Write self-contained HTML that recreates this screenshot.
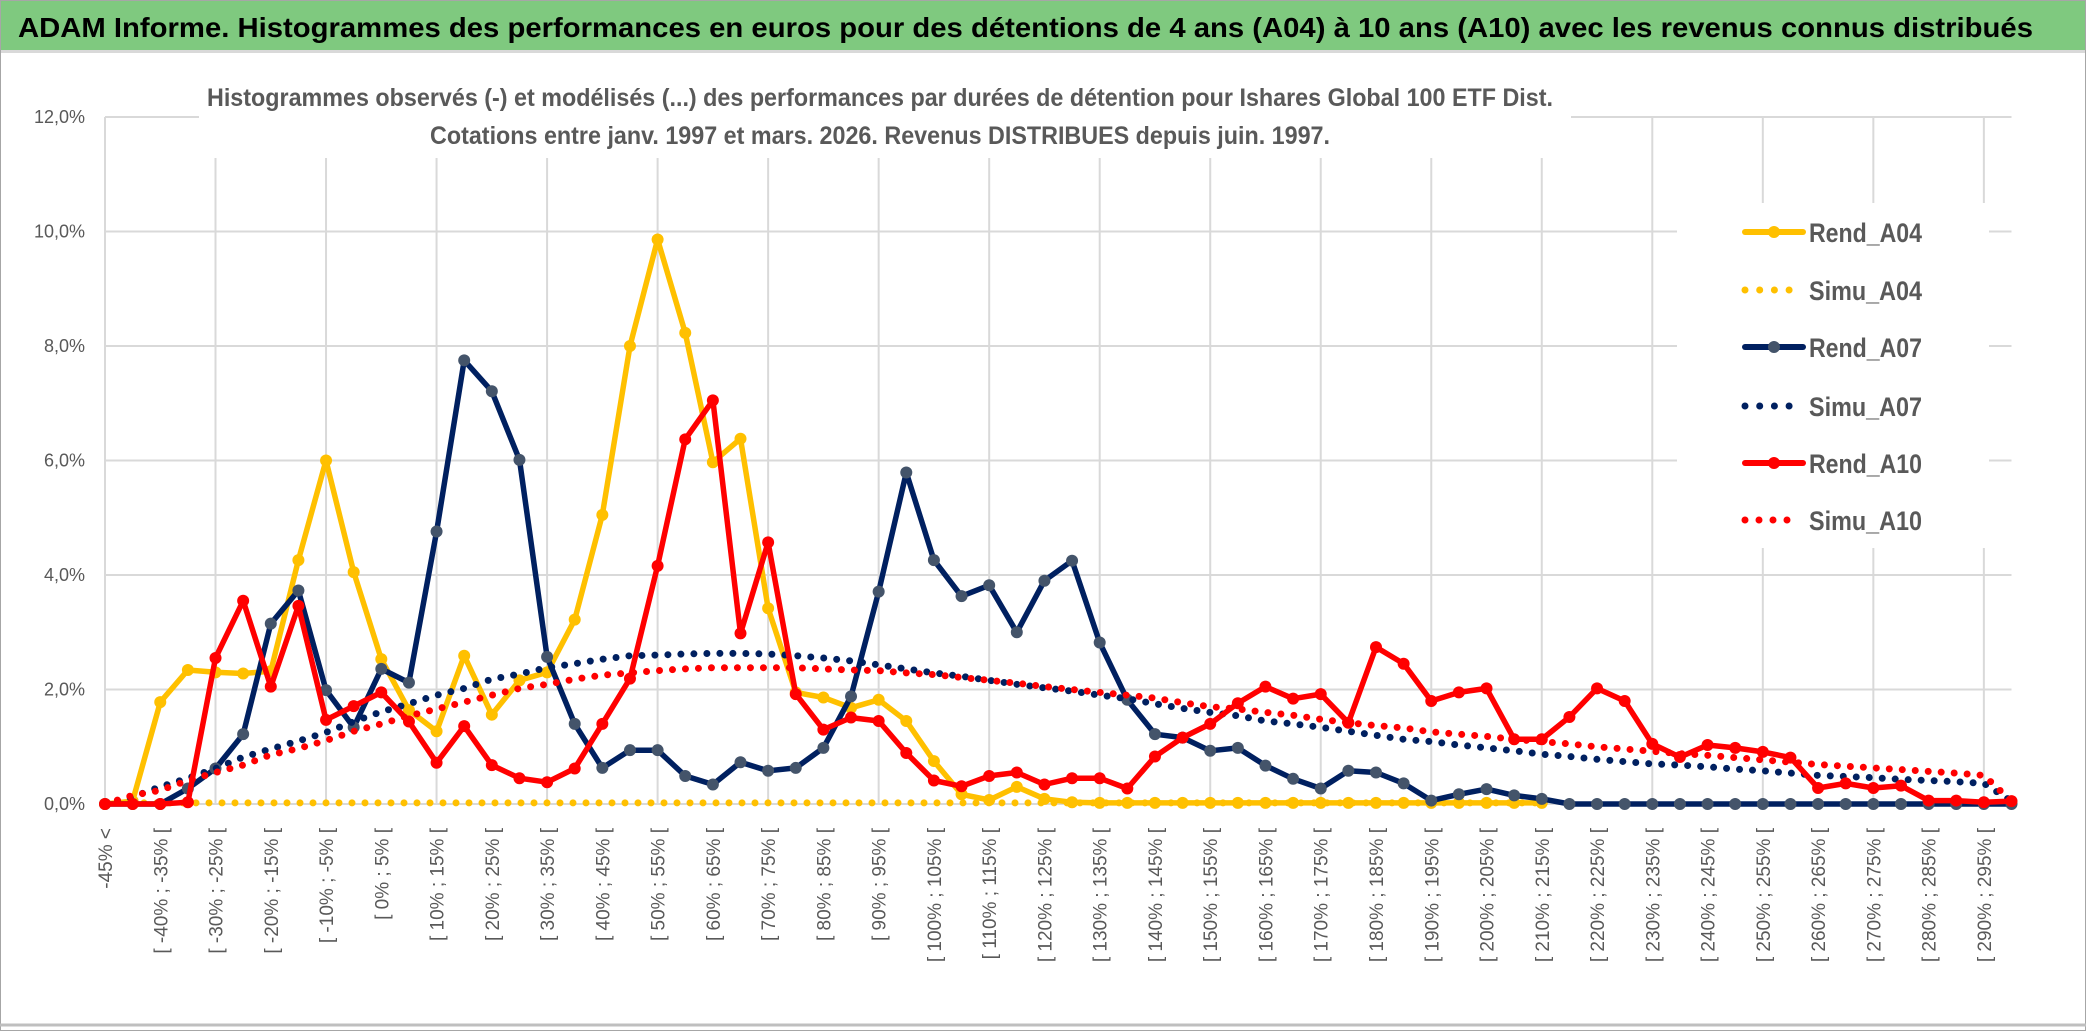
<!DOCTYPE html>
<html><head><meta charset="utf-8"><style>
html,body{margin:0;padding:0;background:#fff;}
svg{display:block;}
text{font-family:"Liberation Sans",sans-serif;}
</style></head><body>
<svg id="chart" width="2086" height="1031" viewBox="0 0 2086 1031" xmlns="http://www.w3.org/2000/svg">
<rect x="0" y="0" width="2086" height="1031" fill="#fff"/>
<rect x="0" y="0" width="2086" height="50" fill="#7fc97f"/>
<line x1="0" y1="51.5" x2="2086" y2="51.5" stroke="#d9d9d9" stroke-width="3"/>
<text x="18" y="37" font-size="28" font-weight="bold" fill="#000" textLength="2015" lengthAdjust="spacingAndGlyphs">ADAM Informe. Histogrammes des performances en euros pour des détentions de 4 ans (A04) à 10 ans (A10) avec les revenus connus distribués</text>
<g id="grid"></g>
<g id="yaxis"></g>
<g id="xaxis"></g>
<rect x="199" y="62" width="1372" height="96" fill="#fff"/>
<text x="880" y="106" font-size="25" font-weight="bold" fill="#595959" text-anchor="middle" textLength="1346" lengthAdjust="spacingAndGlyphs">Histogrammes observés (-) et modélisés (...) des performances par durées de détention pour Ishares Global 100 ETF Dist.</text>
<text x="880" y="144" font-size="25" font-weight="bold" fill="#595959" text-anchor="middle" textLength="900" lengthAdjust="spacingAndGlyphs">Cotations entre janv. 1997 et mars. 2026. Revenus DISTRIBUES depuis juin. 1997.</text>
<g id="series"></g>
<g id="legend"></g>
<rect x="0.5" y="0.5" width="2085" height="1030" fill="none" stroke="#a6a6a6" stroke-width="1"/>
<line x1="0" y1="1025" x2="2086" y2="1025" stroke="#bfbfbf" stroke-width="3"/>
</svg>
<script>
const yTicks = [0, 2, 4, 6, 8, 10, 12];
const yTickLabels = ["0,0%", "2,0%", "4,0%", "6,0%", "8,0%", "10,0%", "12,0%"];
const rendA04 = [0,0.05,1.78,2.34,2.3,2.28,2.32,4.26,6.0,4.05,2.53,1.64,1.27,2.59,1.56,2.16,2.3,3.22,5.05,8.0,9.86,8.23,5.97,6.38,3.42,1.95,1.86,1.68,1.82,1.45,0.75,0.17,0.07,0.3,0.09,0.03,0.02,0.02,0.02,0.02,0.02,0.02,0.02,0.02,0.02,0.02,0.02,0.02,0.02,0.02,0.02,0.02,0.02];
const simuA04 = [0.02,0.02,0.02,0.02,0.02,0.02,0.02,0.02,0.02,0.02,0.02,0.02,0.02,0.02,0.02,0.02,0.02,0.02,0.02,0.02,0.02,0.02,0.02,0.02,0.02,0.02,0.02,0.02,0.02,0.02,0.02,0.02,0.02,0.02,0.02,0.02,0.02,0.02,0.02,0.02,0.02,0.02,0.02,0.02,0.02,0.02,0.02,0.02,0.02,0.02,0.02,0.02,0.02];
const rendA07 = [0,0,0,0.27,0.62,1.22,3.15,3.73,1.99,1.34,2.36,2.12,4.76,7.75,7.21,6.01,2.57,1.4,0.63,0.94,0.94,0.49,0.34,0.73,0.58,0.63,0.98,1.88,3.71,5.79,4.26,3.63,3.82,3.0,3.9,4.25,2.82,1.82,1.22,1.16,0.93,0.98,0.67,0.44,0.27,0.58,0.55,0.36,0.06,0.17,0.26,0.15,0.09,0,0,0,0,0,0,0,0,0,0,0,0,0,0,0,0,0];
const simuA07 = [0,0.12,0.3,0.45,0.62,0.82,0.96,1.1,1.25,1.44,1.61,1.75,1.9,2.02,2.18,2.27,2.38,2.45,2.53,2.59,2.6,2.62,2.63,2.63,2.62,2.59,2.55,2.5,2.43,2.36,2.29,2.23,2.16,2.09,2.03,1.97,1.9,1.84,1.75,1.67,1.6,1.54,1.45,1.4,1.34,1.27,1.2,1.13,1.09,1.03,0.98,0.93,0.87,0.83,0.78,0.74,0.7,0.68,0.65,0.61,0.58,0.54,0.5,0.48,0.46,0.43,0.41,0.39,0.36,0.05];
const rendA10 = [0,0,0,0.03,2.55,3.55,2.05,3.46,1.47,1.71,1.95,1.44,0.72,1.36,0.68,0.45,0.38,0.62,1.4,2.19,4.16,6.37,7.05,2.98,4.57,1.92,1.3,1.51,1.45,0.89,0.41,0.31,0.49,0.55,0.34,0.45,0.45,0.27,0.83,1.16,1.4,1.76,2.05,1.84,1.92,1.42,2.74,2.45,1.8,1.95,2.02,1.13,1.13,1.52,2.02,1.8,1.05,0.82,1.03,0.98,0.91,0.81,0.28,0.36,0.28,0.32,0.06,0.06,0.03,0.05];
const simuA10 = [0,0.15,0.24,0.41,0.55,0.68,0.86,0.97,1.11,1.27,1.4,1.54,1.66,1.78,1.9,2.02,2.09,2.18,2.25,2.29,2.33,2.36,2.38,2.38,2.38,2.38,2.36,2.34,2.33,2.29,2.26,2.21,2.16,2.11,2.05,2.0,1.95,1.9,1.85,1.77,1.7,1.66,1.6,1.55,1.48,1.42,1.37,1.33,1.26,1.22,1.18,1.13,1.09,1.05,1.0,0.96,0.92,0.88,0.85,0.81,0.77,0.73,0.69,0.66,0.63,0.6,0.57,0.54,0.5,0.05];
const nCats = 70;
const categories = [];
for (let i = 0; i < nCats; i++) {
  if (i === 0) categories.push("-45% <");
  else { const lo = -50 + 5 * i; categories.push("[ " + lo + "% ; " + (lo + 5) + "% ["); }
}
const NS = "http://www.w3.org/2000/svg";
const X0 = 105, X1 = 2011.5, Y0 = 804, Y12 = 117;
const xs = i => X0 + (X1 - X0) * i / (nCats - 1);
const ys = v => Y0 - (Y0 - Y12) * v / 12;
function mk(tag, attrs, parent) {
  const e = document.createElementNS(NS, tag);
  for (const k in attrs) e.setAttribute(k, attrs[k]);
  parent.appendChild(e);
  return e;
}
const grid = document.getElementById('grid');
yTicks.forEach((t, k) => {
  const l = mk('line', {x1: X0, x2: X1, y1: ys(t), y2: ys(t), stroke: '#d9d9d9', 'stroke-width': 2}, grid);
  
  
});
for (let i = 0; i < nCats; i += 4) {
  const l = mk('line', {x1: xs(i), x2: xs(i), y1: Y12, y2: Y0, stroke: '#d9d9d9', 'stroke-width': 2}, grid);
  
  
}
const yaxis = document.getElementById('yaxis');
yTicks.forEach((t, k) => {
  const tx = mk('text', {x: 85, y: ys(t) + 6, 'font-size': 18, fill: '#595959', 'text-anchor': 'end'}, yaxis);
  
  
  tx.textContent = yTickLabels[k];
});
const xaxis = document.getElementById('xaxis');
for (let i = 0; i < nCats; i += 2) {
  const x = xs(i) + 7, y = 828;
  const tx = mk('text', {x: x, y: y, 'font-size': 19, fill: '#595959', 'text-anchor': 'end', transform: 'rotate(-90 ' + x + ' ' + y + ')'}, xaxis);
  
  
  tx.textContent = categories[i];
}
const series = document.getElementById('series');
function pts(arr) { return arr.map((v, i) => xs(i).toFixed(1) + ',' + ys(v).toFixed(1)).join(' '); }
function solid(arr, color, mcolor, name) {
  const g = mk('g', {}, series);
  
  
  const p = mk('polyline', {points: pts(arr), fill: 'none', stroke: color, 'stroke-width': 5.5, 'stroke-linejoin': 'round'}, g);
  
  
  arr.forEach((v, i) => {
    const c = mk('circle', {cx: xs(i), cy: ys(v), r: 6, fill: mcolor}, g);
    
    
  });
}
function dotted(arr, color, name) {
  const p = mk('polyline', {points: pts(arr), fill: 'none', stroke: color, 'stroke-width': 7, 'stroke-linecap': 'round', 'stroke-dasharray': '0 13'}, series);
  
  
}
solid(rendA04, '#ffc000', '#ffc000', 'rend-a04');
dotted(simuA04, '#ffc000', 'simu-a04');
solid(rendA07, '#002060', '#44546a', 'rend-a07');
dotted(simuA07, '#002060', 'simu-a07');
solid(rendA10, '#ff0000', '#ff0000', 'rend-a10');
dotted(simuA10, '#ff0000', 'simu-a10');
const legend = document.getElementById('legend');
const lb = mk('rect', {x: 1677, y: 203, width: 312, height: 345, fill: '#fff'}, legend);


const legNames = ["Rend_A04", "Simu_A04", "Rend_A07", "Simu_A07", "Rend_A10", "Simu_A10"];
const legColors = ["#ffc000", "#ffc000", "#002060", "#002060", "#ff0000", "#ff0000"];
const legMarker = ["#ffc000", null, "#44546a", null, "#ff0000", null];
const legY = [232, 290, 347, 406, 463, 520];
legNames.forEach((n, k) => {
  const g = mk('g', {}, legend);
  
  
  const y = legY[k];
  if (legMarker[k]) {
    mk('line', {x1: 1745, x2: 1803, y1: y, y2: y, stroke: legColors[k], 'stroke-width': 6, 'stroke-linecap': 'round'}, g);
    mk('circle', {cx: 1774, cy: y, r: 6, fill: legMarker[k]}, g);
  } else {
    mk('line', {x1: 1745, x2: k === 5 ? 1801 : 1791, y1: y, y2: y, stroke: legColors[k], 'stroke-width': 7, 'stroke-linecap': 'round', 'stroke-dasharray': k === 5 ? '0 14' : '0 14.7'}, g);
  }
  const t = mk('text', {x: 1809, y: y + 10, 'font-size': 27, 'font-weight': 'bold', fill: '#595959', textLength: 113, lengthAdjust: 'spacingAndGlyphs'}, g);
  
  
  t.textContent = n;
});
</script>
</body></html>
